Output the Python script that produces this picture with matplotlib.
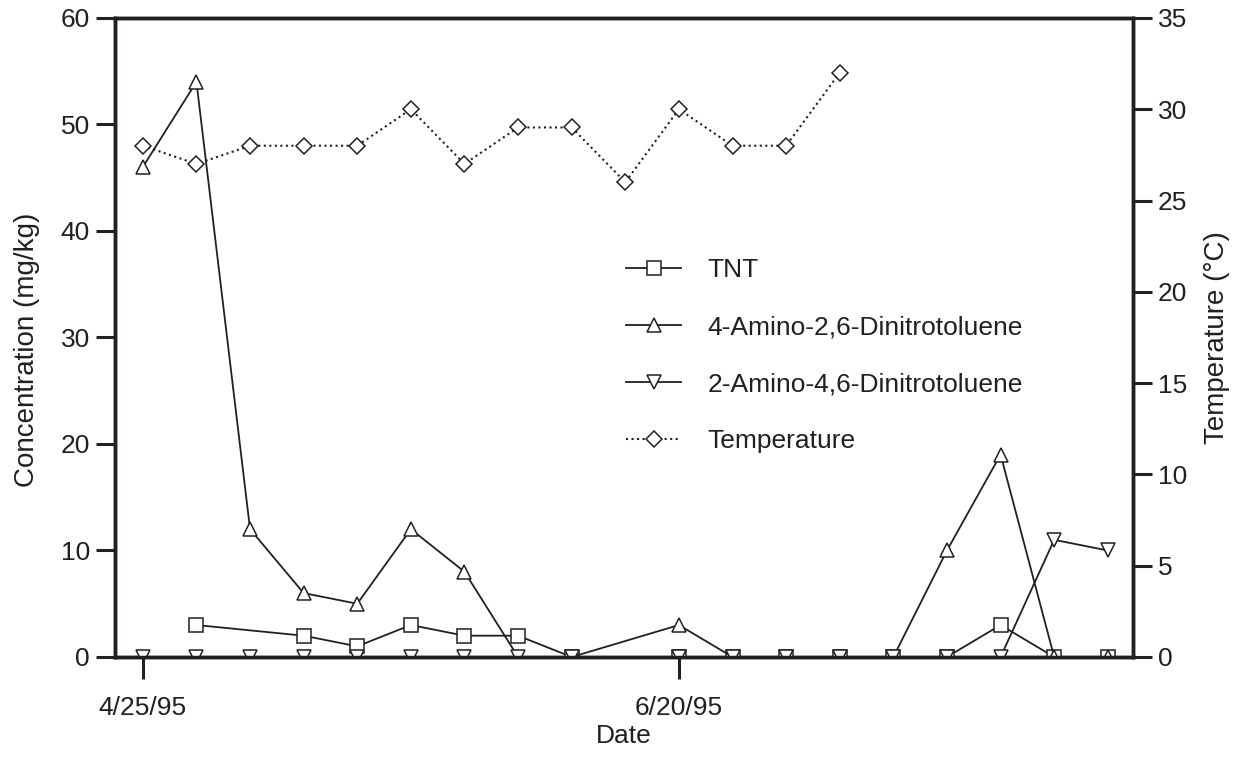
import matplotlib.pyplot as plt
import numpy as np

plt.rcParams['font.family'] = ['Liberation Sans', 'DejaVu Sans']
INK = '#231f20'

# sampling index along the date axis (evenly spaced sampling events)
idx = np.arange(19)
date_ticks = [0, 10]
date_labels = ['4/25/95', '6/20/95']

nan = np.nan
tnt = [nan, 3, nan, 2, 1, 3, 2, 2, 0, nan, 0, 0, 0, 0, 0, 0, 3, 0, 0]
adnt4 = [46, 54, 12, 6, 5, 12, 8, 0, 0, nan, 3, 0, 0, 0, 0, 10, 19, 0, 0]
adnt2 = [0, 0, 0, 0, 0, 0, 0, 0, 0, nan, 0, 0, 0, 0, 0, 0, 0, 11, 10]
temp_idx = np.arange(14)
temperature = [28, 27, 28, 28, 28, 30, 27, 29, 29, 26, 30, 28, 28, 32]


def series(x, y):
    x = np.asarray(x, dtype=float)
    y = np.asarray(y, dtype=float)
    ok = ~np.isnan(y)
    return x[ok], y[ok]


fig = plt.figure(figsize=(12.4, 7.59), dpi=100)
ax = fig.add_axes([0.0927, 0.1344, 0.821, 0.842])
ax2 = ax.twinx()

mk = dict(color=INK, lw=1.3, ms=10, mfc='white', mec=INK, mew=1.1)
h1, = ax.plot(*series(idx, tnt), marker='s', label='TNT', zorder=3, **mk)
h2, = ax.plot(*series(idx, adnt4), marker='^', label='4-Amino-2,6-Dinitrotoluene', zorder=4, **mk)
h3, = ax.plot(*series(idx, adnt2), marker='v', label='2-Amino-4,6-Dinitrotoluene', zorder=5, **mk)
h4, = ax2.plot(temp_idx, temperature, marker='D', ls=':', label='Temperature',
               color=INK, lw=1.5, ms=8, mfc='white', mec=INK, mew=1.1)

ax.set_xlim(-0.52, 18.47)
ax.set_ylim(0, 60)
ax2.set_ylim(0, 35)
ax.set_yticks(range(0, 61, 10))
ax2.set_yticks(range(0, 36, 5))
ax.set_xticks(date_ticks)
ax.set_xticklabels(date_labels)

for a in (ax, ax2):
    for s in a.spines.values():
        s.set_linewidth(2.5)
        s.set_color(INK)
    a.tick_params(direction='out', length=14, width=2.2, color=INK,
                  labelsize=19, labelcolor=INK, pad=4)
ax.tick_params(axis='x', length=16, pad=12)

ax.set_xlabel('Date', fontsize=19, color=INK, labelpad=3)
ax.set_ylabel('Concentration (mg/kg)', fontsize=20, color=INK)
ax.yaxis.set_label_coords(-0.0737, 0.48)
ax2.set_ylabel('Temperature (°C)', fontsize=20, color=INK, labelpad=12)

ax.legend(handles=[h1, h2, h3, h4], loc='upper left', bbox_to_anchor=(0.502, 0.624),
          frameon=False, fontsize=19, handlelength=2.1, labelspacing=1.25,
          handletextpad=1.0, borderpad=0, borderaxespad=0, labelcolor=INK)

fig.savefig('out.png', dpi=100)
